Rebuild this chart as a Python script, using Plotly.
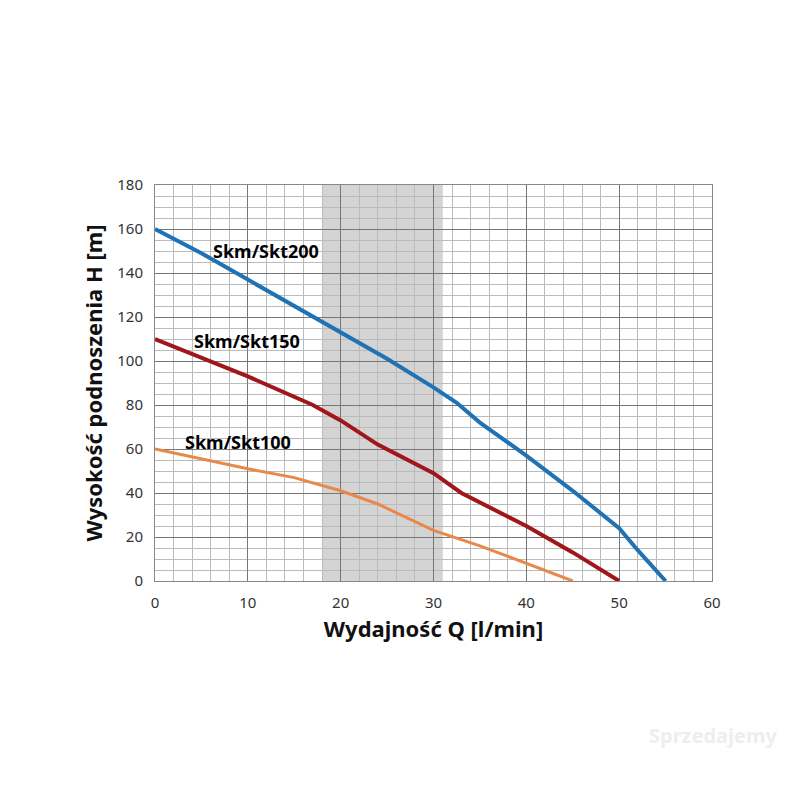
import plotly.graph_objects as go

q200 = [0, 5, 10, 15, 20, 25, 30, 32.5, 35, 40, 45, 50, 52, 55]
h200 = [160, 149, 137, 125, 113, 101, 88, 81, 72, 57, 41, 24, 14, 0]
q150 = [0, 10, 17, 20, 24, 30, 33, 40, 45, 50]
h150 = [110, 93, 80, 73, 62, 49, 40, 25, 13, 0]
q100 = [0, 10, 15, 20, 24, 28, 30, 35, 40, 45]
h100 = [60, 51, 47, 41, 35, 27, 23, 16, 8, 0]
labels = ["Skm/Skt200", "Skm/Skt150", "Skm/Skt100"]
label_pos = [(6, 150), (4, 109), (3, 63)]

fig = go.Figure()
for q, h, c in [(q200, h200, "#1f72b4"), (q150, h150, "#a0161b"), (q100, h100, "#e8884a")]:
    fig.add_trace(go.Scatter(x=q, y=h, mode="lines", line=dict(color=c, width=4 if c != "#e8884a" else 3), showlegend=False))
fig.add_vrect(x0=18, x1=31, fillcolor="#d4d4d4", opacity=1, line_width=0, layer="below")
for t, (x, y) in zip(labels, label_pos):
    fig.add_annotation(x=x, y=y, text="<b>"+t+"</b>", showarrow=False, xanchor="left",
                       font=dict(size=18, color="black", family="Noto Sans"))
ax = dict(showline=True, linecolor="#888", mirror=True, gridcolor="#777", gridwidth=1,
          tickfont=dict(size=15, color="#333", family="Noto Sans"), ticks="", zeroline=False,
          ticklabelstandoff=8,
          minor=dict(showgrid=True, gridcolor="#bbb", gridwidth=1))
fig.update_xaxes(**ax, range=[0, 60], dtick=10, minor_dtick=2)
fig.update_yaxes(**ax, range=[0, 180], dtick=20, minor_dtick=5)
fig.update_xaxes(title=dict(text="<b>Wydajność Q [l/min]</b>", font=dict(size=22, color="#111", family="Noto Sans"), standoff=10))
fig.update_yaxes(title=dict(text="<b>Wysokość podnoszenia H [m]</b>", font=dict(size=22, color="#111", family="Noto Sans"), standoff=8))
fig.update_layout(width=800, height=800, plot_bgcolor="white", paper_bgcolor="white",
                  margin=dict(l=147, r=96, t=177, b=227))
fig.add_annotation(xref="paper", yref="paper", x=1.12, y=-0.43, text="<b>Sprzedajemy</b>", showarrow=False,
                   xanchor="right", font=dict(size=20, color="#eeeeee", family="Noto Sans"))
fig.write_html("out.html")
